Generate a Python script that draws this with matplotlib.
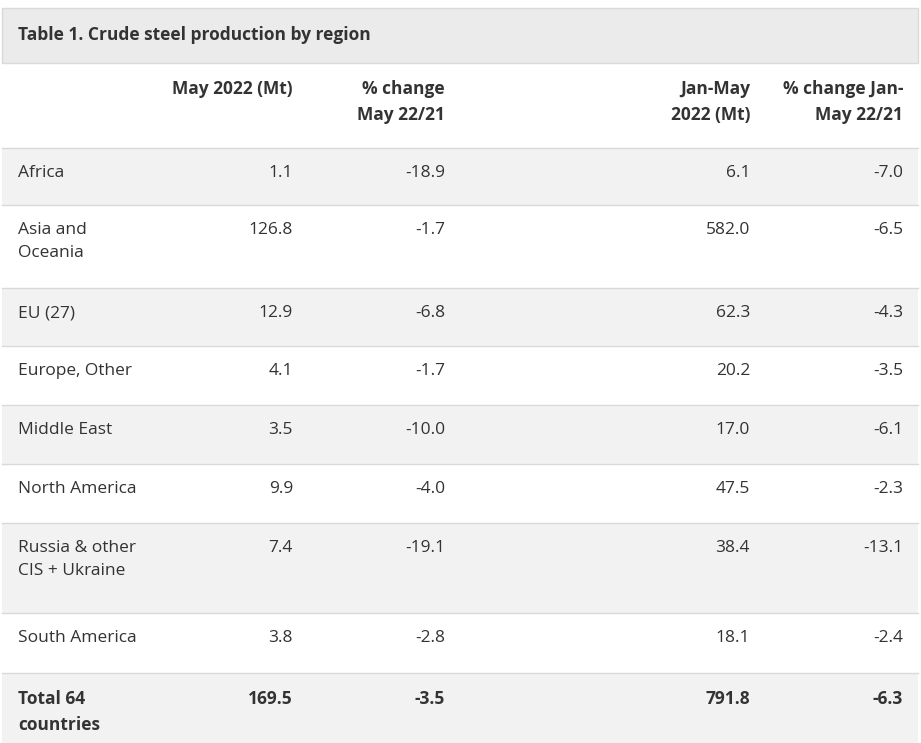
import matplotlib
matplotlib.use("Agg")
import matplotlib.pyplot as plt
from matplotlib.patches import Rectangle

title = "Table 1. Crude steel production by region"
headers = ["May 2022 (Mt)", "% change\nMay 22/21", "Jan-May\n2022 (Mt)", "% change Jan-\nMay 22/21"]
regions = ["Africa", "Asia and\nOceania", "EU (27)", "Europe, Other", "Middle East",
           "North America", "Russia & other\nCIS + Ukraine", "South America", "Total 64\ncountries"]
may2022 = [1.1, 126.8, 12.9, 4.1, 3.5, 9.9, 7.4, 3.8, 169.5]
chg_may = [-18.9, -1.7, -6.8, -1.7, -10.0, -4.0, -19.1, -2.8, -3.5]
janmay = [6.1, 582.0, 62.3, 20.2, 17.0, 47.5, 38.4, 18.1, 791.8]
chg_janmay = [-7.0, -6.5, -4.3, -3.5, -6.1, -2.3, -13.1, -2.4, -6.3]

# layout (pixels)
row_edges = [148, 205, 288, 346, 405, 464, 523, 613, 673, 743]
col_x = [293, 445, 750, 903]
text_col = "#333333"
gray = "#f2f2f2"
line = "#d9d9d9"

fig = plt.figure(figsize=(9.21, 7.43), dpi=100)
ax = fig.add_axes([0, 0, 1, 1])
ax.set_xlim(0, 921); ax.set_ylim(743, 0); ax.axis("off")
font = "Open Sans"
fs = 12.5

ax.add_patch(Rectangle((2, 8), 916, 55, facecolor="#ebebeb", edgecolor=line, lw=1))
ax.text(18, 35.5, title, fontsize=fs, fontweight="bold", family=font, color=text_col, va="center")

for h, x in zip(headers, col_x):
    ax.text(x, 80, h, fontsize=fs, fontweight="bold", family=font, color=text_col,
            ha="right", va="top", linespacing=1.55)

for i, r in enumerate(regions):
    y0, y1 = row_edges[i], row_edges[i + 1]
    if i % 2 == 0:
        ax.add_patch(Rectangle((2, y0), 916, y1 - y0, facecolor=gray, edgecolor="none"))
    ax.plot([2, 918], [y0, y0], color=line, lw=1)
    bold = "bold" if i == len(regions) - 1 else "normal"
    ty = y0 + 17
    ax.text(18, ty, r, fontsize=fs, family=font, color=text_col, va="top",
            fontweight=bold, linespacing=1.55)
    for x, v in zip(col_x, [may2022[i], chg_may[i], janmay[i], chg_janmay[i]]):
        ax.text(x, ty, f"{v:.1f}", fontsize=fs, family=font, color=text_col,
                ha="right", va="top", fontweight=bold)

fig.savefig("out.png", dpi=100, facecolor="white")
